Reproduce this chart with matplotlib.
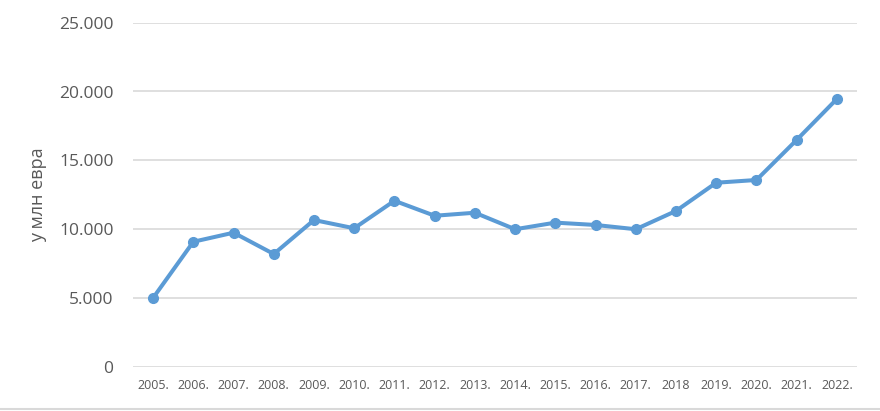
import matplotlib
matplotlib.use("Agg")
import matplotlib.pyplot as plt
from matplotlib.ticker import FuncFormatter
from matplotlib.lines import Line2D

years = ["2005.", "2006.", "2007.", "2008.", "2009.", "2010.", "2011.", "2012.", "2013.",
         "2014.", "2015.", "2016.", "2017.", "2018", "2019.", "2020.", "2021.", "2022."]
values = [5000, 9080, 9740, 8190, 10660, 10060, 12060, 10970, 11190,
          9990, 10470, 10300, 9990, 11320, 13370, 13570, 16480, 19460]
y_ticks = [0, 5000, 10000, 15000, 20000, 25000]
y_label = "у млн евра"

plt.rcParams['font.family'] = ['Open Sans', 'DejaVu Sans']
text_color = "#595959"

fig = plt.figure(figsize=(8.8, 4.11), dpi=100)
ax = fig.add_axes([133/880, (411-366.7)/411, (857-133)/880, (366.7-22.7)/411])

x = list(range(len(years)))
ax.plot(x, values, color="#5B9BD5", linewidth=2.9, marker="o", markersize=7,
        solid_capstyle="round", solid_joinstyle="round", zorder=3)

ax.set_xlim(-0.5, len(years) - 0.5)
ax.set_ylim(0, 25000)
ax.set_yticks(y_ticks)
ax.yaxis.set_major_formatter(FuncFormatter(lambda v, p: f"{int(v):,}".replace(",", ".")))
ax.set_xticks(x)
ax.set_xticklabels(years)

ax.grid(axis="y", color="#D9D9D9", linewidth=1.2, zorder=0)
ax.set_axisbelow(True)
for s in ax.spines.values():
    s.set_visible(False)
ax.tick_params(axis="y", length=0, pad=14, labelsize=12.5, labelcolor=text_color)
ax.tick_params(axis="x", length=0, pad=9, labelsize=9, labelcolor=text_color)

ax.set_ylabel(y_label, fontsize=13, color=text_color, labelpad=9)

fig.add_artist(Line2D([0, 1], [2/411, 2/411], color="#D9D9D9", linewidth=1.5,
                      transform=fig.transFigure))

fig.savefig("out.png", dpi=100)
